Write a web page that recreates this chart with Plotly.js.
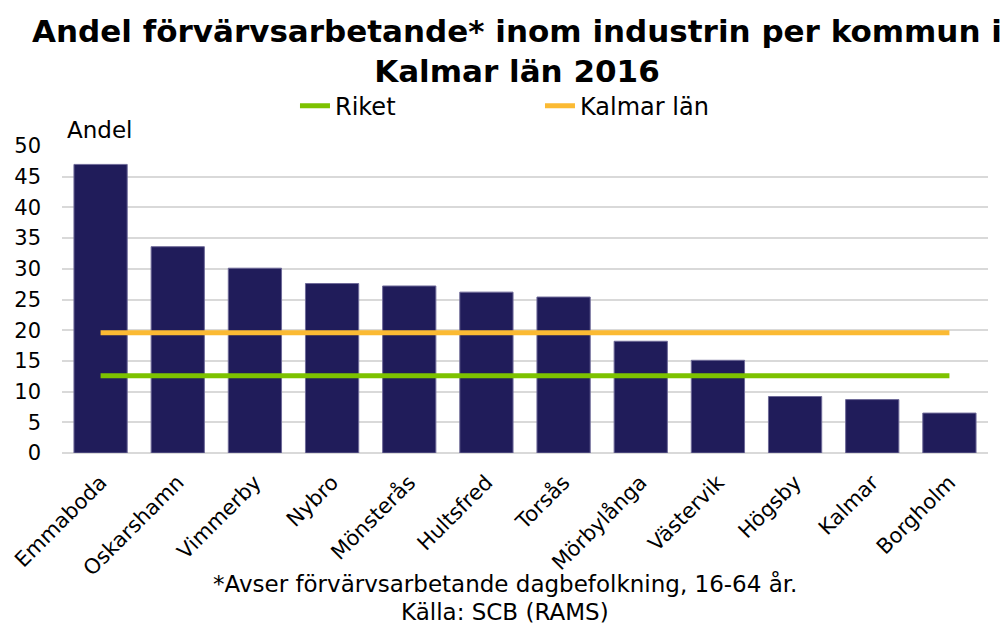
<!DOCTYPE html>
<html>
<head>
<meta charset="utf-8">
<script src="https://cdn.plot.ly/plotly-3.0.1.min.js"></script>
<style>html,body{margin:0;padding:0;background:#fff;}#chart{width:1008px;height:628px;}</style>
</head>
<body>
<div id="chart"></div>
<script>
const kommuner = ["Emmaboda","Oskarshamn","Vimmerby","Nybro","Mönsterås","Hultsfred","Torsås","Mörbylånga","Västervik","Högsby","Kalmar","Borgholm"];
const andel = [47.0, 33.6, 30.1, 27.6, 27.2, 26.2, 25.4, 18.2, 15.1, 9.2, 8.7, 6.5];
const riketVarde = 12.6;
const kalmarLanVarde = 19.6;
const yTicks = [0,5,10,15,20,25,30,35,40,45,50];

const font = "DejaVu Sans, Liberation Sans, Arial, sans-serif";

const traces = [
  {
    type: "bar", x: kommuner, y: andel, name: "Andel", showlegend: false,
    marker: {color: "#201C5A", line: {color: "#6E6A98", width: 1}},
    hoverinfo: "x+y"
  },
  {
    type: "scatter", mode: "lines", name: "Riket",
    x: kommuner, y: kommuner.map(() => riketVarde),
    line: {color: "#7DC200", width: 5}
  },
  {
    type: "scatter", mode: "lines", name: "Kalmar län",
    x: kommuner, y: kommuner.map(() => kalmarLanVarde),
    line: {color: "#FBBA33", width: 5}
  }
];

const layout = {
  width: 1008, height: 628,
  margin: {l: 62, r: 20, t: 146, b: 175},
  paper_bgcolor: "#fff", plot_bgcolor: "#fff",
  font: {family: font, color: "#000", size: 21},
  bargap: 0.31,
  xaxis: {
    type: "category", tickangle: -45, tickfont: {size: 21, family: font},
    showgrid: false, showline: false, ticks: "", zeroline: false, ticklabelstandoff: 12
  },
  yaxis: {
    range: [0, 50], tickvals: yTicks, ticktext: yTicks.map(String),
    tickfont: {size: 21, family: font}, showgrid: true, gridcolor: "#D9D9D9", gridwidth: 2,
    zeroline: true, zerolinecolor: "#D9D9D9", zerolinewidth: 2, showline: false, ticks: "",
    ticklabelstandoff: 20
  },
  legend: {
    orientation: "h", x: 0.2516, xanchor: "left", y: 1.13, yanchor: "middle",
    font: {size: 24, family: font}, entrywidth: 200, tracegroupgap: 0
  },
  annotations: [
    {text: "<b>Andel förvärvsarbetande* inom industrin per kommun i<br>Kalmar län 2016</b>", xref: "paper", yref: "paper", x: 0.491, y: 1.31, xanchor: "center", yanchor: "middle", showarrow: false, font: {size: 31, family: font, color: "#000"}},
    {text: "Andel", xref: "paper", yref: "paper", x: 0.003, y: 1.052, xanchor: "left", yanchor: "middle", showarrow: false, font: {size: 23, family: font}},
    {text: "*Avser förvärvsarbetande dagbefolkning, 16-64 år.", xref: "paper", yref: "paper", x: 0.478, y: -0.4267, xanchor: "center", yanchor: "middle", showarrow: false, font: {size: 23, family: font}},
    {text: "Källa: SCB (RAMS)", xref: "paper", yref: "paper", x: 0.478, y: -0.518, xanchor: "center", yanchor: "middle", showarrow: false, font: {size: 23, family: font}}
  ],
  showlegend: true
};

Plotly.newPlot("chart", traces, layout, {displayModeBar: false, staticPlot: true});
</script>
</body>
</html>
